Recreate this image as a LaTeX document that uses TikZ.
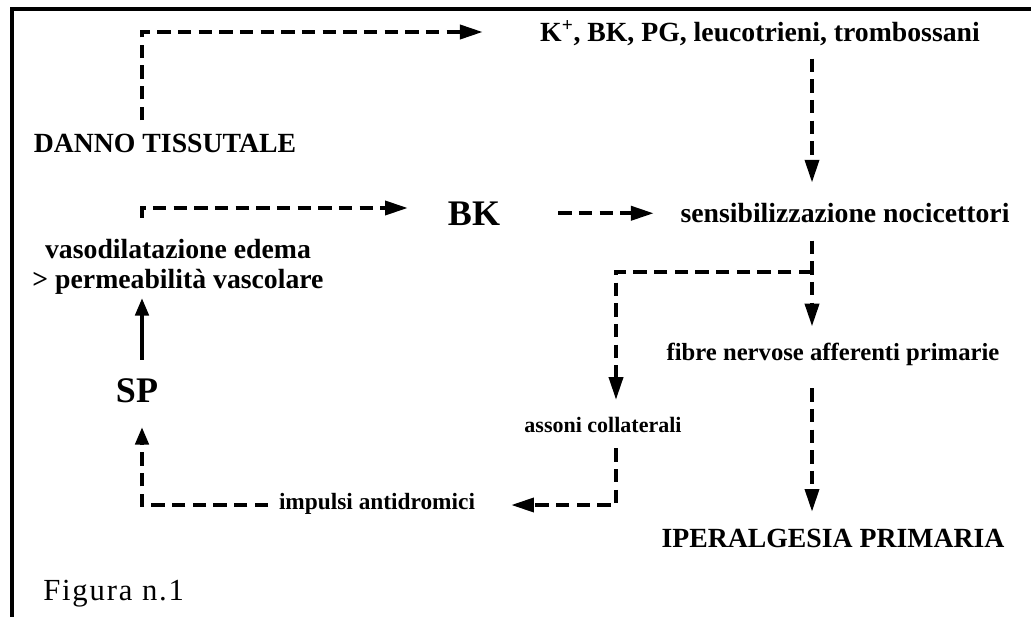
\documentclass[tikz,border=0pt]{standalone}
\usepackage{fontspec}
\setmainfont{Liberation Serif}
\newfontfamily\figfont{Liberation Serif}[LetterSpace=6]
\usetikzlibrary{arrows.meta}
\begin{document}
\begin{tikzpicture}[x=0.75pt,y=-0.75pt,
  lbl/.style={inner sep=0pt, anchor=base, font=\bfseries\fontsize{20.8}{22.5}\selectfont},
  big/.style={lbl, font=\bfseries\fontsize{27}{30}\selectfont},
  da/.style={line width=2.7pt, dash pattern=on 10pt off 5.5pt, -{Triangle[length=17pt,width=10.5pt]}},
  das/.style={da, -{Triangle[length=13pt,width=10pt]}},
  frame/.style={line width=2.4pt}]
\useasboundingbox (0,0) rectangle (1031,617);
\draw[frame] (12,617) -- (12,9) -- (1031,9);

% nodes
\node[lbl] (danno) at (165,152) {DANNO TISSUTALE};
\node[lbl] (kplus) at (760,42) {K\textsuperscript{+}, BK, PG, leucotrieni, trombossani};
\node[big] (bk) at (474,225) {BK};
\node[lbl] (sens) at (845,222) {sensibilizzazione nocicettori};
\node[lbl, align=center, font=\bfseries\fontsize{20.8}{30}\selectfont] (vaso) at (178,288) {vasodilatazione edema\\[-7.5pt]{>} permeabilità vascolare};
\node[big] (sp) at (137,402) {SP};
\node[lbl, font=\bfseries\fontsize{18.5}{20}\selectfont] (fibre) at (833,360) {fibre nervose afferenti primarie};
\node[lbl, font=\bfseries\fontsize{16.5}{18}\selectfont] (assoni) at (603,432) {assoni collaterali};
\node[lbl, font=\bfseries\fontsize{17.5}{19}\selectfont] (impulsi) at (377,509) {impulsi antidromici};
\node[lbl] (iper) at (833,547) {IPERALGESIA PRIMARIA};
\node[inner sep=0pt, anchor=base west, font=\figfont\fontsize{23}{25}\selectfont] (fig) at (43,600) {Figura n.1};

% helper coordinates
\coordinate (b1) at (142,32);
\coordinate (colR) at (812,0);
\coordinate (b3) at (142,208);
\coordinate (br) at (812,272);
\coordinate (colA) at (616,0);
\coordinate (b8) at (616,505);
\coordinate (b9) at (142,505);

% connectors
\draw[da, shorten <=10pt, shorten >=43pt] (danno.north -| b1) -- (b1) -- (kplus.west |- b1);
\draw[da, shorten <=9pt, shorten >=15pt] (kplus.south -| colR) -- (sens.north -| colR);
\draw[da, shorten <=15.5pt, shorten >=30pt] (vaso.north -| b3) -- (b3) -- (bk.west |- b3);
\draw[da, shorten <=43.5pt, shorten >=20pt] (bk.east) -- (bk.east -| sens.west);
\draw[da, shorten <=13.5pt, shorten >=12pt] (sens.south -| colR) -- (fibre.north -| colR);
\draw[da, shorten >=12.5pt] (br) -| (assoni.north -| colA);
\draw[da, shorten <=17pt, shorten >=12.5pt] (fibre.south -| colR) -- (iper.north -| colR);
\draw[da, shorten <=12pt, shorten >=27pt] (assoni.south -| colA) -- (b8) -- (impulsi.east |- b8);
\draw[das, shorten <=8pt, shorten >=18.5pt] (impulsi.west |- b8) -- (b9) -- (sp.south -| b9);
\draw[das, dash pattern=, shorten <=13.5pt, shorten >=3pt] (sp.north -| b9) -- (vaso.south -| b9);
\end{tikzpicture}
\end{document}
